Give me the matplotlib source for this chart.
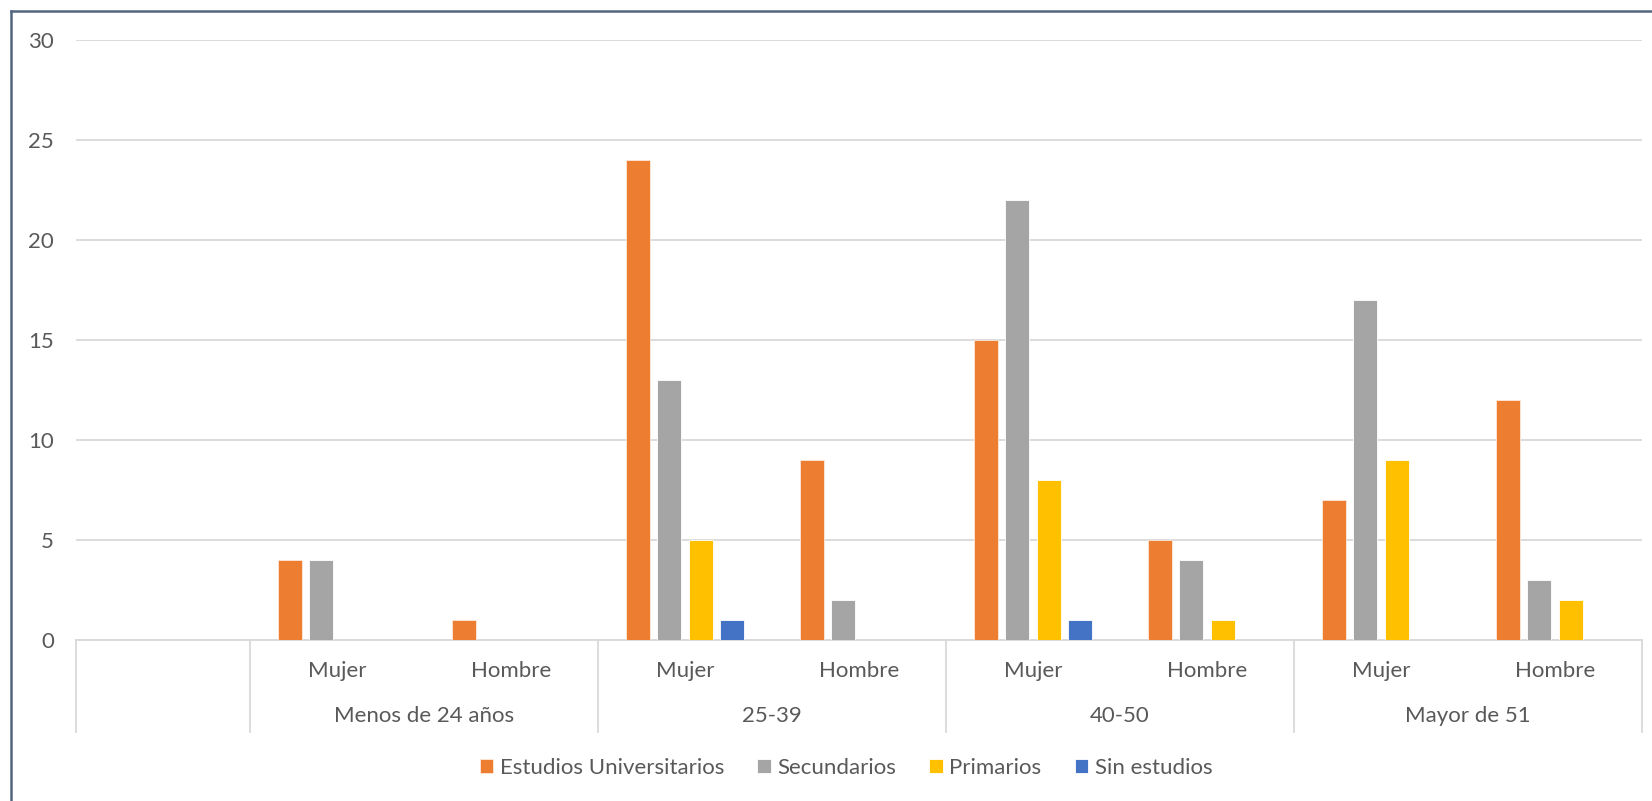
import matplotlib
matplotlib.use('Agg')
import matplotlib.pyplot as plt
from matplotlib.lines import Line2D
import numpy as np

plt.rcParams['font.family'] = ['Lato', 'DejaVu Sans']

# first slot is an empty category, as in the original sheet
sexo = ['', 'Mujer', 'Hombre', 'Mujer', 'Hombre', 'Mujer', 'Hombre', 'Mujer', 'Hombre']
edad = ['Menos de 24 años', '25-39', '40-50', 'Mayor de 51']
series = ['Estudios Universitarios', 'Secundarios', 'Primarios', 'Sin estudios']
universitarios = [0, 4, 1, 24, 9, 15, 5, 7, 12]
secundarios = [0, 4, 0, 13, 2, 22, 4, 17, 3]
primarios = [0, 0, 0, 5, 0, 8, 1, 9, 2]
sin_estudios = [0, 0, 0, 1, 0, 1, 0, 0, 0]
colores = ['#ED7D31', '#A5A5A5', '#FFC000', '#4472C4']

W, H = 1652, 801
fs = 16
gris = '#595959'
fig = plt.figure(figsize=(W / 100, H / 100), dpi=100)
ax = fig.add_axes([76 / W, 161 / H, (1642 - 76) / W, 600 / H])

x = np.arange(len(sexo))
bw = 0.138
step = 0.181
valores = [universitarios, secundarios, primarios, sin_estudios]
for k, (vals, c, nombre) in enumerate(zip(valores, colores, series)):
    v = np.array(vals, dtype=float)
    v[v == 0] = np.nan
    ax.bar(x + (k - 1.5) * step, v, width=bw, color=c, label=nombre,
           edgecolor='#fbe9dc' if k == 0 else 'white', linewidth=0.6, zorder=3)

ax.set_xlim(-0.5, len(sexo) - 0.5)
ax.set_ylim(0, 30)
ax.set_yticks(range(0, 31, 5))
ax.yaxis.grid(True, color='#D9D9D9', linewidth=1.3, zorder=0)
for s in ['top', 'right', 'left']:
    ax.spines[s].set_visible(False)
ax.spines['bottom'].set_color('#D9D9D9')
ax.spines['bottom'].set_linewidth(1.3)
ax.tick_params(axis='y', length=0, pad=16, labelsize=fs, labelcolor=gris)
ax.set_xticks([])

# multi-level category axis
tr = ax.get_xaxis_transform()
for xb in [-0.5, 0.5, 2.5, 4.5, 6.5, 8.5]:
    ax.add_line(Line2D([xb, xb], [0, -92 / 600], transform=tr, color='#D9D9D9',
                       linewidth=1.3, clip_on=False))
for xi, s in zip(x, sexo):
    ax.text(xi, -31 / 600, s, transform=tr, ha='center', va='center',
            fontsize=fs, color=gris)
for g, nombre in enumerate(edad):
    ax.text(1.5 + 2 * g, -76 / 600, nombre, transform=tr, ha='center', va='center',
            fontsize=fs, color=gris)

fig.legend(loc='center', bbox_to_anchor=(846 / W, 1 - 768 / H), ncol=4, frameon=False,
           fontsize=fs, handlelength=0.6, handleheight=0.6, handletextpad=0.3,
           columnspacing=1.5, labelcolor=gris)

# chart frame (only left and top edges visible)
borde = '#51667f'
fig.add_artist(Line2D([11 / W, 11 / W], [0, 1 - 11 / H], transform=fig.transFigure,
                      color=borde, linewidth=1.8))
fig.add_artist(Line2D([11 / W, 1], [1 - 11 / H, 1 - 11 / H], transform=fig.transFigure,
                      color=borde, linewidth=1.8))

fig.savefig('out.png', dpi=100)
